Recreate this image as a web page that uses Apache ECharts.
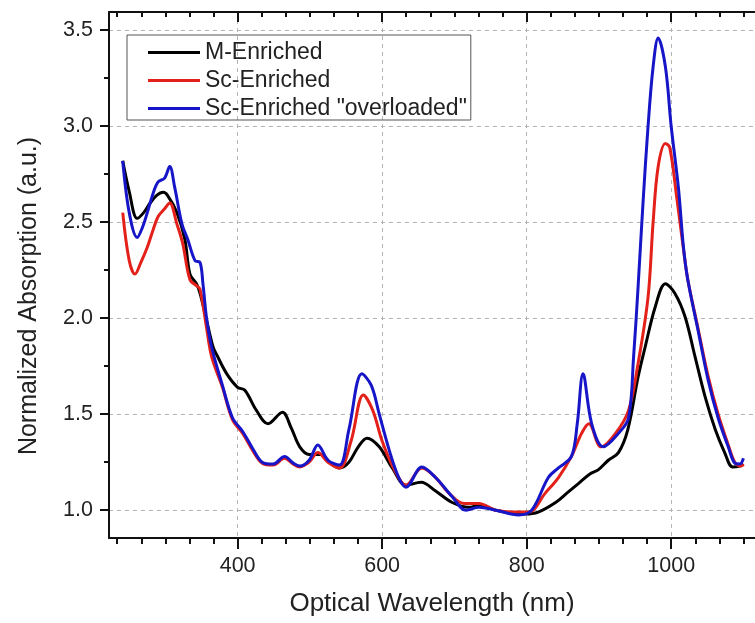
<!DOCTYPE html>
<html>
<head>
<meta charset="utf-8">
<script src="https://cdn.jsdelivr.net/npm/echarts@6/dist/echarts.min.js"></script>
<style>
  html, body { margin: 0; padding: 0; background: #fff; }
  #chart { width: 755px; height: 623px; }
</style>
</head>
<body>
<div id="chart"></div>
<script>
// tick marks
const xMajorTicks = [400, 600, 800, 1000]
const yMajorTicks = [1.0, 1.5, 2.0, 2.5, 3.0, 3.5]

// M-Enriched
const mWavelength = [241, 250, 261, 270, 279, 288, 297, 303, 316, 327, 334, 343, 348, 357, 366, 371, 385, 400, 410, 426, 442, 462, 474, 486, 499, 515, 530, 541, 554, 567, 579, 596, 614, 633, 654, 674, 697, 720, 734, 757, 779, 798, 816, 840, 856, 872, 888, 899, 913, 927, 940, 954, 964, 978, 992, 1005, 1019, 1033, 1047, 1061, 1074, 1085, 1095, 1100]
const mAbsorb = [2.82, 2.66, 2.52, 2.55, 2.60, 2.64, 2.656, 2.64, 2.55, 2.41, 2.23, 2.18, 2.13, 1.99, 1.85, 1.81, 1.71, 1.64, 1.625, 1.52, 1.45, 1.51, 1.43, 1.33, 1.29, 1.29, 1.24, 1.22, 1.25, 1.33, 1.375, 1.33, 1.22, 1.13, 1.145, 1.10, 1.04, 1.015, 1.025, 1.0, 0.985, 0.98, 0.99, 1.04, 1.09, 1.14, 1.19, 1.21, 1.26, 1.30, 1.42, 1.69, 1.85, 2.06, 2.18, 2.13, 2.01, 1.80, 1.59, 1.42, 1.30, 1.225, 1.23, 1.24]

// Sc-Enriched
const scWavelength = [241, 250, 258, 266, 275, 283, 290, 299, 306, 316, 324, 334, 343, 348, 357, 364, 379, 393, 407, 421, 434, 449, 465, 477, 486, 499, 511, 525, 541, 557, 574, 587, 600, 617, 633, 655, 674, 692, 713, 734, 757, 789, 803, 826, 844, 862, 876, 886, 903, 923, 941, 954, 968, 975, 982, 992, 998, 1008, 1017, 1023, 1037, 1051, 1065, 1079, 1088, 1097, 1100]
const scAbsorb = [2.55, 2.30, 2.23, 2.29, 2.37, 2.46, 2.53, 2.57, 2.60, 2.49, 2.39, 2.20, 2.17, 2.15, 1.95, 1.80, 1.64, 1.47, 1.40, 1.31, 1.245, 1.235, 1.27, 1.24, 1.225, 1.25, 1.30, 1.25, 1.22, 1.36, 1.60, 1.52, 1.36, 1.21, 1.13, 1.22, 1.17, 1.09, 1.035, 1.035, 1.0, 0.99, 0.99, 1.09, 1.17, 1.28, 1.40, 1.45, 1.33, 1.40, 1.52, 1.76, 2.11, 2.50, 2.79, 2.91, 2.89, 2.62, 2.36, 2.20, 1.95, 1.70, 1.50, 1.34, 1.25, 1.23, 1.24]

// Sc-Enriched "overloaded"
const ovWavelength = [241, 250, 261, 268, 275, 283, 290, 299, 306, 313, 323, 331, 341, 348, 352, 357, 364, 379, 393, 407, 421, 434, 449, 465, 477, 486, 499, 511, 525, 541, 554, 572, 585, 596, 610, 623, 633, 655, 674, 697, 716, 734, 757, 789, 807, 830, 844, 862, 870, 878, 890, 906, 927, 941, 948, 954, 961, 968, 975, 982, 992, 1000, 1010, 1017, 1023, 1037, 1051, 1065, 1079, 1088, 1095, 1100]
const ovAbsorb = [2.82, 2.55, 2.42, 2.47, 2.55, 2.65, 2.71, 2.73, 2.79, 2.68, 2.49, 2.41, 2.30, 2.29, 2.18, 2.0, 1.85, 1.65, 1.48, 1.41, 1.32, 1.25, 1.24, 1.28, 1.245, 1.23, 1.26, 1.34, 1.26, 1.235, 1.42, 1.71, 1.65, 1.50, 1.31, 1.17, 1.12, 1.225, 1.17, 1.07, 1.0, 1.015, 1.0, 0.975, 1.0, 1.17, 1.22, 1.28, 1.45, 1.71, 1.45, 1.33, 1.40, 1.48, 1.80, 2.15, 2.60, 3.00, 3.31, 3.46, 3.31, 3.00, 2.68, 2.37, 2.20, 1.94, 1.68, 1.48, 1.33, 1.245, 1.24, 1.27]

const seriesNames = ['M-Enriched', 'Sc-Enriched', 'Sc-Enriched "overloaded"']
const seriesColors = ['#000000', '#e32019', '#1616c8']

const X_MIN = 222
const X_MAX = 1116
const Y_MIN = 0.855
const Y_MAX = 3.595

const zip = (xs, ys) => xs.map((x, i) => [x, ys[i]])

// minor ticks: 6 parts between x majors, 2 parts between y majors
const minorBetween = (majors, parts, lo, hi) => {
  const step = (majors[1] - majors[0]) / parts
  const out = []
  for (let v = majors[0] - step * parts; v <= majors[majors.length - 1] + step * parts; v += step) {
    const r = Math.round(v * 1000) / 1000
    const isMajor = majors.some(m => Math.abs(m - r) < 1e-6)
    if (!isMajor && r > lo && r < hi) out.push(r)
  }
  return out
}
const xMinorTicks = minorBetween(xMajorTicks, 6, X_MIN, X_MAX)
const yMinorTicks = minorBetween(yMajorTicks, 2, Y_MIN, Y_MAX)

const font = '"Liberation Sans", Arial, sans-serif'
const textColor = '#222'
const axisBlack = { color: '#111', width: 2 }
const gridDash = { color: '#b4b4b4', width: 1, type: [4, 4] }
// flat bar used as the legend line sample
const legendLine = 'path://M0,0L52,0L52,3L0,3Z'

const chart = echarts.init(document.getElementById('chart'))

const xAxisBase = (extra) => Object.assign({
  type: 'value',
  min: X_MIN,
  max: X_MAX,
  axisLine: { show: false },
  axisLabel: { show: false },
  splitLine: { show: false }
}, extra)

const yAxisBase = (extra) => Object.assign({
  type: 'value',
  min: Y_MIN,
  max: Y_MAX,
  axisLine: { show: false },
  axisLabel: { show: false },
  splitLine: { show: false }
}, extra)

chart.setOption({
  animation: false,
  backgroundColor: '#fff',
  textStyle: { fontFamily: font },
  grid: { left: 109, right: 0, top: 12, bottom: 85 },
  legend: {
    orient: 'vertical',
    left: 127,
    top: 35,
    padding: [6, 4, 0, 21],
    itemWidth: 52,
    itemHeight: 22,
    itemGap: 5,
    icon: legendLine,
    borderColor: '#555',
    borderWidth: 1,
    textStyle: { fontSize: 23, lineHeight: 22, color: textColor, fontFamily: font },
    data: seriesNames
  },
  xAxis: [
    xAxisBase({
      position: 'bottom',
      name: 'Optical Wavelength (nm)',
      nameLocation: 'middle',
      nameGap: 53,
      nameTextStyle: { fontSize: 26, color: textColor, fontFamily: font },
      axisLine: { show: true, onZero: false, lineStyle: axisBlack },
      axisTick: { show: true, length: 11, lineStyle: axisBlack, customValues: xMajorTicks },
      axisLabel: {
        show: true, fontSize: 21.5, color: textColor, margin: 17,
        customValues: xMajorTicks,
        formatter: v => String(v)
      },
      splitLine: { show: true, lineStyle: gridDash }
    }),
    xAxisBase({
      position: 'bottom',
      axisTick: { show: true, length: 6, lineStyle: axisBlack, customValues: xMinorTicks }
    }),
    xAxisBase({
      position: 'top',
      axisLine: { show: true, onZero: false, lineStyle: axisBlack },
      axisTick: { show: true, inside: true, length: 10, lineStyle: axisBlack, customValues: xMajorTicks }
    }),
    xAxisBase({
      position: 'top',
      axisTick: { show: true, inside: true, length: 5, lineStyle: axisBlack, customValues: xMinorTicks }
    })
  ],
  yAxis: [
    yAxisBase({
      position: 'left',
      name: 'Normalized Absorption (a.u.)',
      nameLocation: 'middle',
      nameGap: 67,
      nameTextStyle: { fontSize: 25, color: textColor, fontFamily: font, padding: [0, 42, 0, 0] },
      axisLine: { show: true, onZero: false, lineStyle: axisBlack },
      axisTick: { show: true, length: 9, lineStyle: axisBlack, customValues: yMajorTicks },
      axisLabel: {
        show: true, fontSize: 21.5, color: textColor, margin: 16,
        customValues: yMajorTicks,
        formatter: v => Number(v).toFixed(1)
      },
      splitLine: { show: true, lineStyle: gridDash }
    }),
    yAxisBase({
      position: 'left',
      axisTick: { show: true, length: 5, lineStyle: axisBlack, customValues: yMinorTicks }
    })
  ],
  series: [
    [mWavelength, mAbsorb],
    [scWavelength, scAbsorb],
    [ovWavelength, ovAbsorb]
  ].map(([xs, ys], i) => ({
    name: seriesNames[i],
    type: 'line',
    xAxisIndex: 0,
    yAxisIndex: 0,
    data: zip(xs, ys),
    smooth: 0.35,
    symbol: 'none',
    lineStyle: { color: seriesColors[i], width: 3 },
    itemStyle: { color: seriesColors[i] },
    z: 2 + i
  }))
})
</script>
</body>
</html>
